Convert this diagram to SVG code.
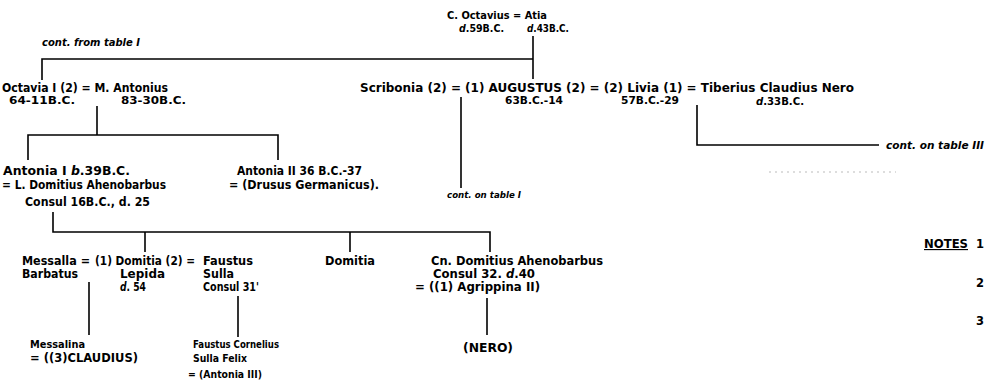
<svg xmlns="http://www.w3.org/2000/svg" width="986" height="387" viewBox="0 0 986 387">
<style>
.t{font-family:"DejaVu Sans","Liberation Sans",sans-serif;font-weight:bold;font-size:11.5px;fill:#000}
.s{font-size:11px}
.m{font-size:10.5px}
.c{font-style:italic;font-size:10px}
.i{font-style:italic}
.ln{stroke:#000;stroke-width:1.6;fill:none}
.u{text-decoration:underline}
</style>
<rect width="986" height="387" fill="#fff"/>
<g id="connectors" class="ln">
<path d="M42 80V59H533"/>
<path d="M533 36V79"/>
<path d="M97 106V135"/>
<path d="M28 160V135H278V160"/>
<path d="M461 97V188"/>
<path d="M697 105V145H879"/>
<path d="M53 212V232H490V252"/>
<path d="M145 232V252"/>
<path d="M350 232V252"/>
<path d="M89 282V335"/>
<path d="M238 296V337"/>
<path d="M487 298V335"/>
</g>
<path d="M769 172H896" stroke="#bbb" stroke-width="1" stroke-dasharray="2 4"/>
<g id="octavius-atia">
<text class="t s" x="447" y="19" textLength="100" lengthAdjust="spacingAndGlyphs">C. Octavius = Atia</text>
<text class="t s" x="459" y="32" textLength="45" lengthAdjust="spacingAndGlyphs"><tspan class="i">d</tspan>.59B.C.</text>
<text class="t s" x="527" y="32" textLength="42" lengthAdjust="spacingAndGlyphs"><tspan class="i">d</tspan>.43B.C.</text>
</g>
<g id="cont-from-table-1">
<text class="t c" x="42" y="46" textLength="98" lengthAdjust="spacingAndGlyphs">cont. from table I</text>
</g>
<g id="octavia-antonius">
<text class="t" x="2" y="92" textLength="166" lengthAdjust="spacingAndGlyphs">Octavia I (2) = M. Antonius</text>
<text class="t s" x="9" y="104" textLength="66" lengthAdjust="spacingAndGlyphs">64-11B.C.</text>
<text class="t s" x="121" y="104" textLength="65" lengthAdjust="spacingAndGlyphs">83-30B.C.</text>
</g>
<g id="augustus-marriages">
<text class="t" x="360" y="92" style="font-size:12px" textLength="494" lengthAdjust="spacingAndGlyphs">Scribonia (2) = (1) AUGUSTUS (2) = (2) Livia (1) = Tiberius Claudius Nero</text>
<text class="t s" x="505" y="104" textLength="58" lengthAdjust="spacingAndGlyphs">63B.C.-14</text>
<text class="t s" x="621" y="104" textLength="58" lengthAdjust="spacingAndGlyphs">57B.C.-29</text>
<text class="t s" x="756" y="105" textLength="48" lengthAdjust="spacingAndGlyphs"><tspan class="i">d</tspan>.33B.C.</text>
</g>
<g id="cont-on-table-1">
<text class="t c" x="447" y="198" style="font-size:9.5px" textLength="74" lengthAdjust="spacingAndGlyphs">cont. on table I</text>
</g>
<g id="cont-on-table-3">
<text class="t c" x="886" y="149" textLength="98" lengthAdjust="spacingAndGlyphs">cont. on table III</text>
</g>
<g id="antonia-1">
<text class="t" x="3" y="175" textLength="127" lengthAdjust="spacingAndGlyphs">Antonia I  <tspan class="i">b</tspan>.39B.C.</text>
<text class="t" x="2" y="189" textLength="164" lengthAdjust="spacingAndGlyphs">= L. Domitius Ahenobarbus</text>
<text class="t" x="25" y="206" textLength="125" lengthAdjust="spacingAndGlyphs">Consul 16B.C., d. 25</text>
</g>
<g id="antonia-2">
<text class="t" x="237" y="175" textLength="125" lengthAdjust="spacingAndGlyphs">Antonia II 36 B.C.-37</text>
<text class="t" x="229" y="189" textLength="150" lengthAdjust="spacingAndGlyphs">= (Drusus Germanicus).</text>
</g>
<g id="messalla-barbatus">
<text class="t" x="22" y="265" textLength="68" lengthAdjust="spacingAndGlyphs">Messalla =</text>
<text class="t" x="22" y="278" textLength="56" lengthAdjust="spacingAndGlyphs">Barbatus</text>
</g>
<g id="domitia-lepida">
<text class="t" x="95" y="265" textLength="100" lengthAdjust="spacingAndGlyphs">(1) Domitia (2) =</text>
<text class="t" x="120" y="278" textLength="45" lengthAdjust="spacingAndGlyphs">Lepida</text>
<text class="t" x="120" y="291" textLength="26" lengthAdjust="spacingAndGlyphs"><tspan class="i">d</tspan>. 54</text>
</g>
<g id="faustus-sulla">
<text class="t" x="203" y="265" textLength="50" lengthAdjust="spacingAndGlyphs">Faustus</text>
<text class="t" x="203" y="278" textLength="31" lengthAdjust="spacingAndGlyphs">Sulla</text>
<text class="t" x="203" y="291" textLength="56" lengthAdjust="spacingAndGlyphs">Consul 31'</text>
</g>
<g id="domitia">
<text class="t" x="325" y="265" textLength="50" lengthAdjust="spacingAndGlyphs">Domitia</text>
</g>
<g id="cn-domitius">
<text class="t" x="431" y="265" textLength="172" lengthAdjust="spacingAndGlyphs">Cn. Domitius Ahenobarbus</text>
<text class="t" x="433" y="278" textLength="102" lengthAdjust="spacingAndGlyphs">Consul 32. <tspan class="i">d</tspan>.40</text>
<text class="t" x="415" y="291" textLength="125" lengthAdjust="spacingAndGlyphs">= ((1) Agrippina II)</text>
</g>
<g id="messalina">
<text class="t m" x="30" y="348" textLength="55" lengthAdjust="spacingAndGlyphs">Messalina</text>
<text class="t" x="30" y="362" textLength="108" lengthAdjust="spacingAndGlyphs">= ((3)CLAUDIUS)</text>
</g>
<g id="faustus-cornelius">
<text class="t m" x="193" y="348" textLength="86" lengthAdjust="spacingAndGlyphs">Faustus Cornelius</text>
<text class="t m" x="193" y="362" textLength="54" lengthAdjust="spacingAndGlyphs">Sulla Felix</text>
<text class="t m" x="188" y="378" textLength="74" lengthAdjust="spacingAndGlyphs">= (Antonia III)</text>
</g>
<g id="nero">
<text class="t" x="463" y="352" textLength="50" lengthAdjust="spacingAndGlyphs">(NERO)</text>
</g>
<g id="notes">
<text class="t u" x="924" y="248" textLength="44" lengthAdjust="spacingAndGlyphs">NOTES</text>
<text class="t" x="976" y="248">1</text>
<text class="t" x="976" y="287">2</text>
<text class="t" x="976" y="325">3</text>
</g>
</svg>
